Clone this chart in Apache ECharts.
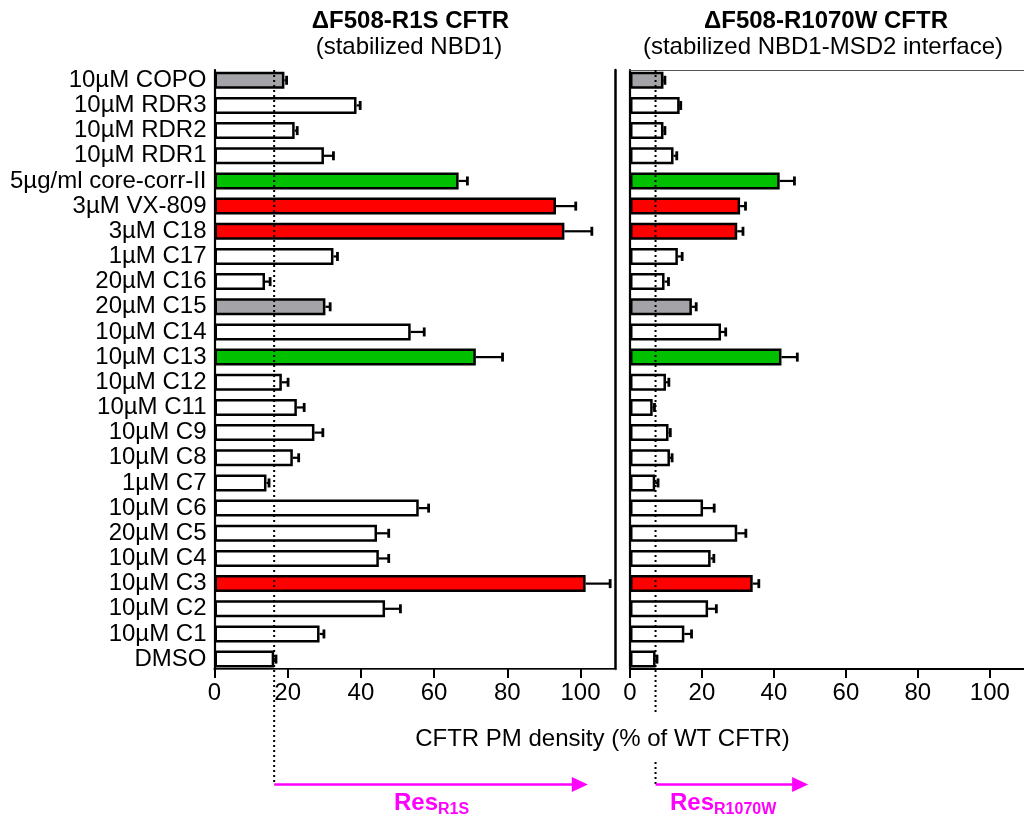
<!DOCTYPE html>
<html><head><meta charset="utf-8">
<script src="https://cdn.jsdelivr.net/npm/echarts@6/dist/echarts.min.js"></script>
<style>html,body{margin:0;padding:0;background:#fff}#c{width:1024px;height:818px}</style>
</head><body><div id="c"></div>
<script>
// ---------- data ----------
const categories = ['10µM COPO','10µM RDR3','10µM RDR2','10µM RDR1','5µg/ml core-corr-II','3µM VX-809','3µM C18','1µM C17','20µM C16','20µM C15','10µM C14','10µM C13','10µM C12','10µM C11','10µM C9','10µM C8','1µM C7','10µM C6','20µM C5','10µM C4','10µM C3','10µM C2','10µM C1','DMSO'];
const compoundClass = ['III','none','none','none','II','I','I','none','none','III','none','II','none','none','none','none','none','none','none','none','I','none','none','none'];
const r1sMean  = [19.1, 38.8, 21.9, 29.9, 66.7, 93.3, 95.6, 32.5, 13.8, 30.3, 53.6, 71.4, 18.4, 22.5, 27.3, 21.4, 14.2, 55.8, 44.4, 44.9, 101.4, 46.6, 28.7, 16.3];
const r1sErr   = [0.6, 1.0, 0.7, 2.6, 2.4, 5.4, 7.5, 1.1, 1.4, 1.3, 3.7, 7.3, 1.7, 2.0, 2.3, 1.6, 0.7, 2.7, 3.2, 2.7, 6.7, 4.2, 1.2, 0.5];
const r1070wMean = [9.3, 13.8, 9.3, 12.1, 41.6, 30.6, 29.8, 13.3, 9.6, 17.2, 25.3, 42.1, 10.0, 6.3, 10.7, 11.1, 7.0, 20.3, 29.8, 22.4, 34.1, 21.7, 15.1, 7.1];
const r1070wErr  = [0.4, 0.3, 0.4, 0.9, 4.1, 1.5, 1.6, 1.2, 1.1, 1.2, 1.3, 4.4, 0.8, 0.5, 0.5, 0.6, 0.8, 3.1, 2.4, 0.9, 1.7, 2.3, 2.0, 0.4];
const xTickValues = [0, 20, 40, 60, 80, 100];
const xMax = 109.5;
const arrowEndR1S = 102;
const arrowEndR1070W = 49.5;
const titleR1S = ['ΔF508-R1S CFTR', '(stabilized NBD1)'];
const titleR1070W = ['ΔF508-R1070W CFTR', '(stabilized NBD1-MSD2 interface)'];
const axisTitle = 'CFTR PM density (% of WT CFTR)';
const resLabels = [['Res', 'R1S'], ['Res', 'R1070W']];

// ---------- styles ----------
const FONT = '"Liberation Sans", Arial, sans-serif';
const classColor = { I: '#ff0000', II: '#00c000', III: '#a4a4a8', none: '#ffffff' };
const MAG = '#ff00ff';

const pxPerUnitL = 3.66, pxPerUnitR = 3.633;
const gridL = { left: 214.5, width: xMax * pxPerUnitL };
const gridR = { left: 630, width: xMax * pxPerUnitR };
const dataTop = 67.7, dataH = 604;
const frameTop = 70, frameH = 599;

const chart = echarts.init(document.getElementById('c'), null, { renderer: 'canvas' });

function errSeries(xi, yi, mean, err) {
  return {
    type: 'custom', xAxisIndex: xi, yAxisIndex: yi, z: 5,
    data: mean.map((m, i) => [i, m, err[i]]),
    encode: { x: [1, 2], y: 0 },
    renderItem: function (params, api) {
      const c = api.value(0), m = api.value(1), e = api.value(2);
      const p0 = api.coord([m, c]), p1 = api.coord([m + e, c]);
      const h = 4.5;
      return { type: 'group', children: [
        { type: 'line', shape: { x1: p0[0], y1: p0[1], x2: p1[0], y2: p1[1] }, style: { stroke: '#000', lineWidth: 2.2 } },
        { type: 'line', shape: { x1: p1[0], y1: p1[1] - h, x2: p1[0], y2: p1[1] + h }, style: { stroke: '#000', lineWidth: 2.8 } }
      ]};
    }
  };
}
function barSeries(xi, yi, mean) {
  return {
    type: 'bar', xAxisIndex: xi, yAxisIndex: yi, barWidth: 17, z: 3,
    data: mean,
    itemStyle: { color: p => classColor[compoundClass[p.dataIndex]], borderColor: '#000', borderWidth: 2.5 }
  };
}
const hiddenX = (g) => ({ type: 'value', gridIndex: g, min: 0, max: xMax, show: false });
const frameX = (g) => ({
  type: 'value', gridIndex: g, min: 0, max: xMax, interval: 20, position: 'bottom',
  axisLine: { show: true, lineStyle: { color: '#000', width: 2.2 } },
  axisTick: { show: true, length: 9, lineStyle: { color: '#000', width: 2 }, customValues: xTickValues },
  axisLabel: { show: true, margin: 12, color: '#000', fontSize: 24, fontFamily: FONT, customValues: xTickValues },
  splitLine: { show: false }
});
const topX = (g) => ({
  type: 'value', gridIndex: g, min: 0, max: xMax, position: 'top',
  axisLine: { show: true, lineStyle: { color: '#555', width: 1 } },
  axisTick: { show: false }, axisLabel: { show: false }, splitLine: { show: false }
});
const frameY = (g, pos, w) => ({
  type: 'value', gridIndex: g, min: 0, max: 1, position: pos,
  axisLine: { show: true, onZero: false, lineStyle: { color: '#000', width: w } },
  axisTick: { show: false }, axisLabel: { show: false }, splitLine: { show: false }
});

const option = {
  animation: false,
  backgroundColor: '#fff',
  grid: [
    { left: gridL.left, width: gridL.width, top: dataTop, height: dataH },
    { left: gridR.left, width: gridR.width, top: dataTop, height: dataH },
    { left: gridL.left, width: gridL.width, top: frameTop, height: frameH },
    { left: gridR.left, width: gridR.width, top: frameTop, height: frameH }
  ],
  xAxis: [ hiddenX(0), hiddenX(1), frameX(2), frameX(3), topX(2), topX(3) ],
  yAxis: [
    { type: 'category', gridIndex: 0, inverse: true, data: categories,
      axisLine: { show: false }, axisTick: { show: false },
      axisLabel: { show: true, margin: 8, color: '#000', fontSize: 24, fontFamily: FONT, interval: 0 } },
    { type: 'category', gridIndex: 1, inverse: true, data: categories,
      axisLine: { show: false }, axisTick: { show: false }, axisLabel: { show: false } },
    frameY(2, 'left', 2.2),
    frameY(3, 'left', 2.2),
    frameY(2, 'right', 2.5)
  ],
  series: [
    barSeries(0, 0, r1sMean), errSeries(0, 0, r1sMean, r1sErr),
    barSeries(1, 1, r1070wMean), errSeries(1, 1, r1070wMean, r1070wErr)
  ]
};
chart.setOption(option);

// ---------- annotations placed through axis scales ----------
const dmso = categories.indexOf('DMSO');
const xDL = chart.convertToPixel({ xAxisIndex: 0 }, r1sMean[dmso]);
const xDR = chart.convertToPixel({ xAxisIndex: 1 }, r1070wMean[dmso]);
const xAL = chart.convertToPixel({ xAxisIndex: 0 }, arrowEndR1S);
const xAR = chart.convertToPixel({ xAxisIndex: 1 }, arrowEndR1070W);
const yTop = chart.convertToPixel({ yAxisIndex: 2 }, 1);
const arrowY = 784.5;
const dotStyle = { stroke: '#000', lineWidth: 2, lineDash: [2, 3] };

function arrow(x0, x1, y) {
  return [
    { type: 'line', z: 50, shape: { x1: x0, y1: y, x2: x1 - 14, y2: y }, style: { stroke: MAG, lineWidth: 2.6 } },
    { type: 'polygon', z: 50, shape: { points: [[x1 - 16, y - 7.5], [x1, y], [x1 - 16, y + 7.5]] }, style: { fill: MAG } }
  ];
}
const ctx = document.createElement('canvas').getContext('2d');
function measure(t, font) { ctx.font = font; return ctx.measureText(t).width; }
function resLabel(x, pair) {
  const w = measure(pair[0], 'bold 24px ' + FONT);
  return [
    { type: 'text', z: 50, x: x, y: 803, style: { text: pair[0], fill: MAG, font: 'bold 24px ' + FONT, textAlign: 'left', textVerticalAlign: 'middle' } },
    { type: 'text', z: 50, x: x + w, y: 809.5, style: { text: pair[1], fill: MAG, font: 'bold 16px ' + FONT, textAlign: 'left', textVerticalAlign: 'middle' } }
  ];
}
function txt(x, y, t, bold) {
  return { type: 'text', z: 50, x: x, y: y, style: { text: t, fill: '#000', font: (bold ? 'bold ' : '') + '24px ' + FONT, textAlign: 'center', textVerticalAlign: 'middle' } };
}

const graphics = [
  { type: 'line', z: 40, shape: { x1: xDL, y1: yTop, x2: xDL, y2: arrowY }, style: dotStyle },
  { type: 'line', z: 40, shape: { x1: xDR, y1: yTop, x2: xDR, y2: 713 }, style: dotStyle },
  { type: 'line', z: 40, shape: { x1: xDR, y1: 762, x2: xDR, y2: arrowY }, style: dotStyle },
  ...arrow(xDL, xAL, arrowY),
  ...arrow(xDR, xAR, arrowY),
  ...resLabel(394, resLabels[0]),
  ...resLabel(670, resLabels[1]),
  txt(410.5, 21, titleR1S[0], true),
  txt(409, 47, titleR1S[1], false),
  txt(826, 21, titleR1070W[0], true),
  txt(823, 47, titleR1070W[1], false),
  txt(602.5, 739, axisTitle, false)
];
chart.setOption({ graphic: graphics });
</script>
</body></html>
